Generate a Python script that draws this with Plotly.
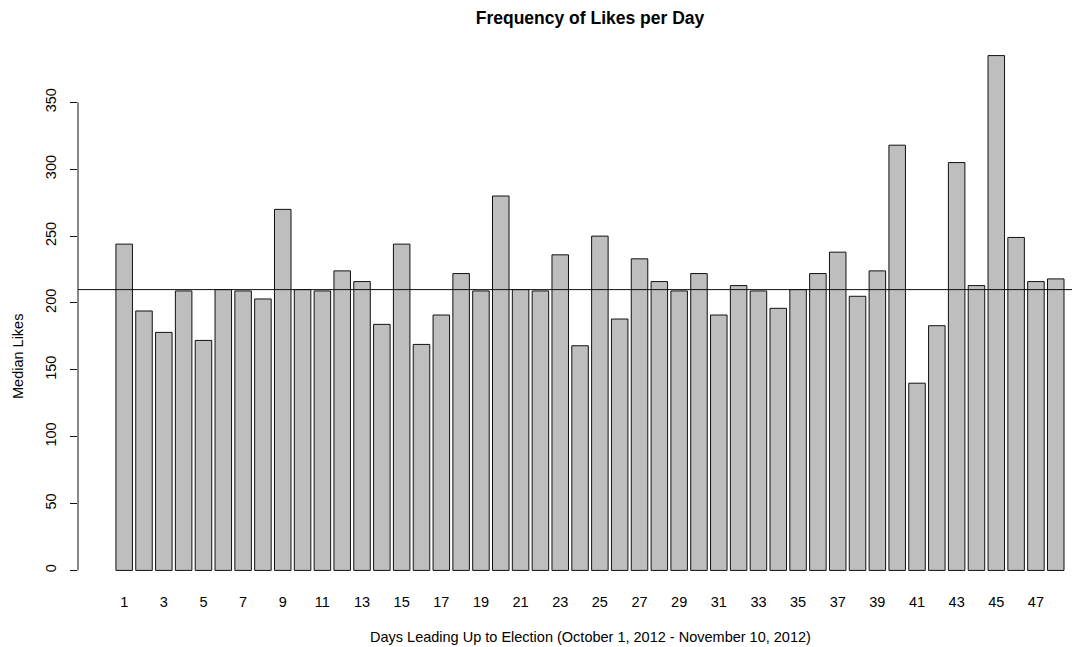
import numpy as np
import plotly.graph_objects as go

# Median likes per day, days 1..48 leading up to the election
days = list(range(1, 49))
median_likes = [
    244, 194, 178, 209, 172, 210, 209, 203, 270, 210, 209, 224, 216, 184, 244, 169,
    191, 222, 209, 280, 210, 209, 236, 168, 250, 188, 233, 216, 209, 222, 191, 213,
    209, 196, 210, 222, 238, 205, 224, 318, 140, 183, 305, 213, 385, 249, 216, 218,
]
x_tick_days = days[::2]
x_tick_labels = [str(d) for d in x_tick_days]
y_ticks = [0, 50, 100, 150, 200, 250, 300, 350]

reference_level = float(np.median(median_likes))

FONT = "Liberation Sans, Arial, Helvetica, sans-serif"
W, H = 1072, 647
ML, MR, MT, MB = 78, 0, 35, 56
FS = 14.5

ymax = max(median_likes)
y_range = [-0.04 * ymax, 1.04 * ymax]

fig = go.Figure()
fig.add_trace(go.Bar(
    x=days,
    y=median_likes,
    width=1 / 1.2,
    marker=dict(color="#bebebe", line=dict(color="#111111", width=1)),
    hoverinfo="x+y",
))

# horizontal reference line across the plotting region
fig.add_shape(type="line", xref="paper", yref="y", x0=0, x1=1,
              y0=reference_level, y1=reference_level,
              line=dict(color="#111111", width=1))
# y axis line spanning the tick range only
fig.add_shape(type="line", xref="paper", yref="y", x0=0, x1=0,
              y0=min(y_ticks), y1=max(y_ticks),
              line=dict(color="#111111", width=1))

fig.update_layout(
    width=W, height=H,
    margin=dict(l=ML, r=MR, t=MT, b=MB, pad=0),
    paper_bgcolor="white", plot_bgcolor="white",
    showlegend=False,
    font=dict(family=FONT, size=FS, color="black"),
    title=dict(text="<b>Frequency of Likes per Day</b>",
               font=dict(family=FONT, size=17.5, color="black"),
               x=(590 - ML) / (W - ML - MR), xref="paper", xanchor="center",
               y=1 - 18 / H, yref="container", yanchor="middle"),
    xaxis=dict(range=[-1.33, 48.82], showgrid=False, zeroline=False,
               showline=False, ticks="", tickmode="array",
               tickvals=x_tick_days, ticktext=x_tick_labels,
               tickfont=dict(family=FONT, size=FS, color="black")),
    yaxis=dict(range=y_range, showgrid=False, zeroline=False, showline=False,
               ticks="outside", ticklen=7, tickwidth=1, tickcolor="#111111",
               tickmode="array", tickvals=y_ticks,
               ticktext=[str(v) for v in y_ticks], tickangle=-90,
               ticklabelstandoff=8,
               tickfont=dict(family=FONT, size=FS, color="black")),
    annotations=[
        dict(text="Days Leading Up to Election (October 1, 2012 - November 10, 2012)",
             xref="paper", yref="paper", x=(590 - ML) / (W - ML - MR), y=0,
             yshift=-46, xanchor="center", yanchor="middle", showarrow=False,
             font=dict(family=FONT, size=FS, color="black")),
        dict(text="Median Likes", xref="paper", yref="paper", x=0,
             y=(570 - 336) / (H - MT - MB),
             xshift=18 - ML, xanchor="center", yanchor="middle", textangle=-90,
             showarrow=False, font=dict(family=FONT, size=FS, color="black")),
    ],
)

fig.write_html("out.html", config={"displayModeBar": False})
